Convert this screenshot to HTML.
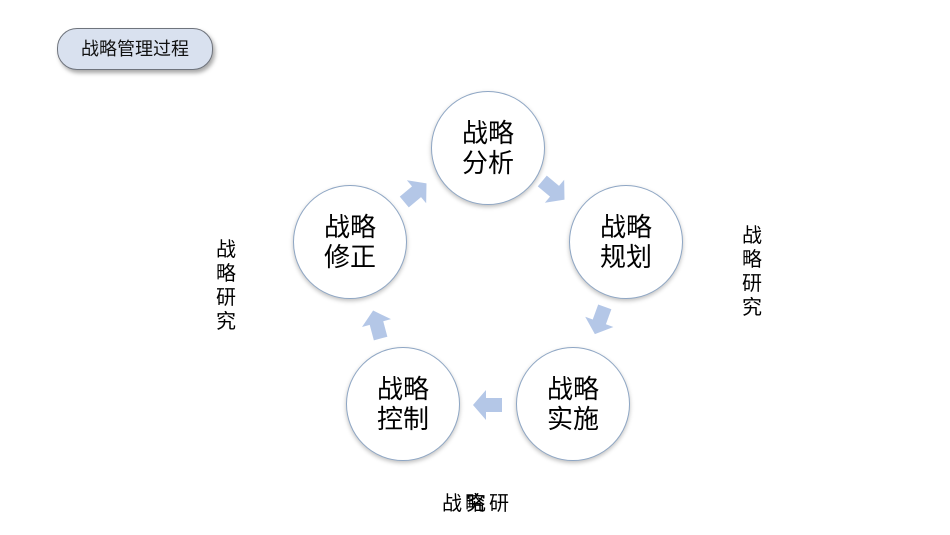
<!DOCTYPE html>
<html><head><meta charset="utf-8"><style>
body{margin:0;width:950px;height:535px;background:#fff;position:relative;overflow:hidden;font-family:"Liberation Sans","Noto Sans CJK SC",sans-serif;}
.pill{position:absolute;left:57px;top:28px;width:154px;height:40px;border-radius:20px;background:#d9e1ef;border:1.5px solid #6f747d;box-shadow:2px 3px 4px rgba(0,0,0,0.35);font-size:18px;line-height:40px;text-align:center;color:#111;}
.c{position:absolute;width:112px;height:112px;border-radius:50%;border:1.5px solid #8ea6c4;background:#fff;box-shadow:0 2px 4px rgba(0,0,0,0.25);display:flex;align-items:center;justify-content:center;text-align:center;font-size:26px;line-height:30px;color:#000;}
.v{position:absolute;width:24px;font-size:20px;line-height:24px;text-align:center;color:#000;}
.t{position:absolute;font-size:20px;color:#000;top:487px;}
</style></head><body>
<div class="pill">战略管理过程</div>
<svg width="950" height="535" style="position:absolute;left:0;top:0">
<defs><polygon id="a" points="-14,-7 2,-7 2,-15 15,0 2,15 2,7 -14,7" fill="#b4c7e7"/></defs>
<use href="#a" transform="translate(415,193) rotate(-40)"/>
<use href="#a" transform="translate(553,190) rotate(40)"/>
<use href="#a" transform="translate(600,320) rotate(110)"/>
<use href="#a" transform="translate(488,405) rotate(180)"/>
<use href="#a" transform="translate(377,325) rotate(-105)"/>
</svg>
<div class="c" style="left:431px;top:91px">战略<br>分析</div>
<div class="c" style="left:569px;top:185px">战略<br>规划</div>
<div class="c" style="left:293px;top:185px">战略<br>修正</div>
<div class="c" style="left:346px;top:347px">战略<br>控制</div>
<div class="c" style="left:516px;top:347px">战略<br>实施</div>
<div class="v" style="left:214px;top:238px">战<br>略<br>研<br>究</div>
<div class="v" style="left:740px;top:224px">战<br>略<br>研<br>究</div>
<div class="t" style="left:442px">战</div>
<div class="t" style="left:465px">略</div>
<div class="t" style="left:466px">究</div>
<div class="t" style="left:489px">研</div>
</body></html>
